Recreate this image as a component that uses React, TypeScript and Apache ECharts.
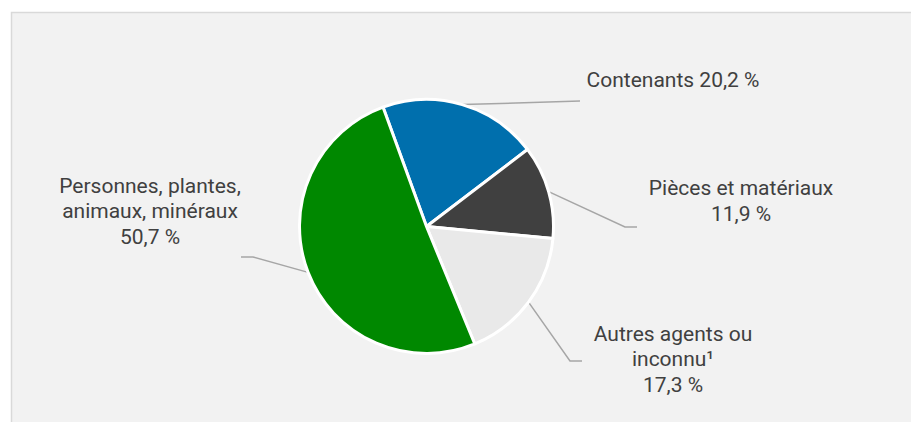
import React, { useEffect, useRef } from "react";
import * as echarts from "echarts";

const categories = [
  "Contenants",
  "Pièces et matériaux",
  "Autres agents ou inconnu¹",
  "Personnes, plantes, animaux, minéraux",
];
const labelTexts = [
  "Contenants",
  "Pièces et matériaux",
  "Autres agents ou\ninconnu¹",
  "Personnes, plantes,\nanimaux, minéraux",
];
const shares = [20.2, 11.9, 17.3, 50.7];
const colors = ["#006fad", "#404040", "#e9e9e9", "#008800"];

// label anchor placement (layout only)
const labelPlacement = [
  { x: 673, y: 80, sep: " ", line: [[580, 101]] },
  { x: 741, y: 201, sep: "\n", line: [[625, 227], [637, 227]] },
  { x: 673, y: 359, sep: "\n", line: [[570, 361], [582, 361]] },
  { x: 150, y: 211, sep: "\n", line: [[253, 257], [241, 257]] },
];

const fmt = (v: number) => v.toFixed(1).replace(".", ",") + " %";

export default function App() {
  const ref = useRef<HTMLDivElement>(null);
  useEffect(() => {
    document.body.style.margin = "0";
    const chart = echarts.init(ref.current!, undefined, { renderer: "svg" });
    chart.setOption({
      animation: false,
      backgroundColor: "#ffffff",
      textStyle: { fontFamily: "Roboto" },
      graphic: [
        {
          type: "rect",
          silent: true,
          z: -10,
          shape: { x: 11.5, y: 12.5, width: 1000, height: 1000 },
          style: { fill: "#f2f2f2", stroke: "#d9d9d9", lineWidth: 1.5 },
        },
      ],
      series: [
        {
          type: "pie",
          center: [426.5, 226.5],
          radius: 127,
          startAngle: 110,
          clockwise: true,
          avoidLabelOverlap: false,
          itemStyle: { borderColor: "#ffffff", borderWidth: 3 },
          emphasis: { disabled: true },
          label: {
            show: true,
            position: "outside",
            fontFamily: "Roboto",
            fontSize: 21,
            lineHeight: 25.5,
            color: "#404040",
            align: "center",
            formatter: (p: any) =>
              labelTexts[p.dataIndex] + labelPlacement[p.dataIndex].sep + fmt(p.value),
          },
          labelLine: {
            show: true,
            length: 10,
            length2: 10,
            lineStyle: { color: "#a6a6a6", width: 1.5 },
          },
          labelLayout: (params: any) => {
            const i = params.dataIndex;
            const pl = labelPlacement[i];
            const p0 = params.labelLinePoints ? params.labelLinePoints[0] : pl.line[0];
            return {
              x: pl.x,
              y: pl.y,
              align: "center",
              verticalAlign: "middle",
              labelLinePoints: [p0, ...pl.line],
            };
          },
          data: categories.map((name, i) => ({
            name,
            value: shares[i],
            itemStyle: { color: colors[i] },
          })),
        },
      ],
    });
    return () => chart.dispose();
  }, []);
  return (
    <div
      ref={ref}
      style={{ position: "absolute", left: 0, top: 0, width: 911, height: 422 }}
    />
  );
}
